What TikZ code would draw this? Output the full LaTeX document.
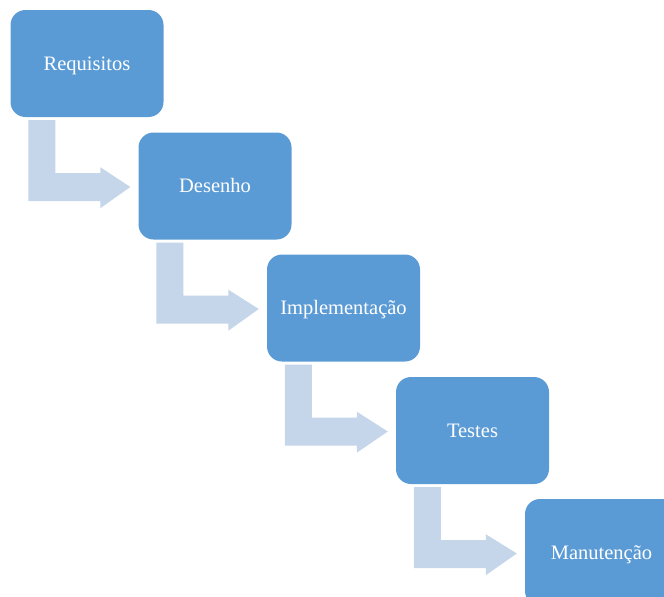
\documentclass[tikz,border=0pt]{standalone}
\usepackage{fontspec}
\setmainfont{Liberation Serif}
\usetikzlibrary{calc}
\definecolor{boxblue}{HTML}{5B9BD5}
\definecolor{flowblue}{HTML}{C5D5EA}

\begin{document}
\begin{tikzpicture}[x=1pt,y=-1pt,
  phase/.style={fill=boxblue,rounded corners=15pt,minimum width=153pt,minimum height=107pt,inner sep=0pt,
    text height=13.5pt,text depth=0pt,text=white,font=\fontsize{20.5}{24}\selectfont},
  flow/.style={fill=flowblue}]

\useasboundingbox (0,0) rectangle (664,597);

\node[phase] (req) at (87,63.5) {Requisitos};
\node[phase] (des) at (215,186) {Desenho};
\node[phase] (impl) at (343.5,308) {Implementação};
\node[phase] (test) at (472.5,430.5) {Testes};
\node[phase] (man) at (601.5,552.5) {Manutenção};

\foreach \a/\b in {req/des,des/impl,impl/test,test/man}
  \fill[flow] ($(\a.south west)+(18,3)$) -- ++(27,0) -- ++(0,53) -- ++(45,0) -- ++(0,-6)
    -- ($(\b.west)+(-8,1)$) -- ($(\a.south west)+(90,91)$) -- ++(0,-7) -- ++(-72,0) -- cycle;

\end{tikzpicture}
\end{document}
